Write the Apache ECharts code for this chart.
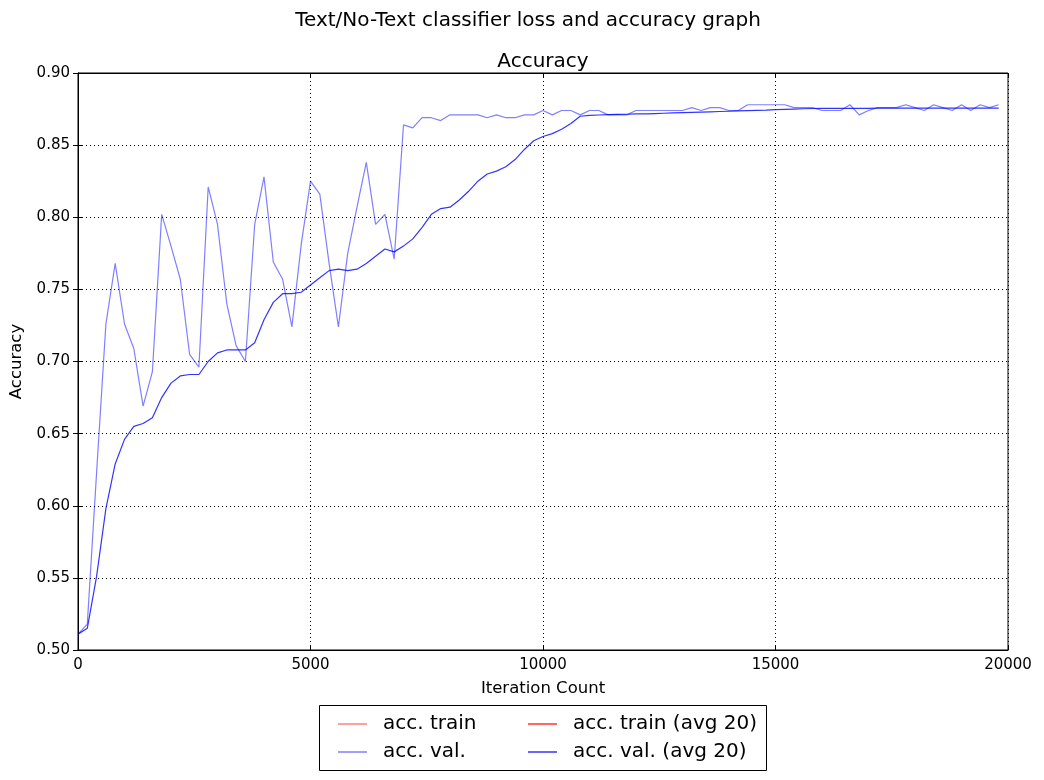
<!DOCTYPE html>
<html>
<head>
<meta charset="utf-8">
<title>Accuracy</title>
<script src="https://cdn.jsdelivr.net/npm/echarts@6/dist/echarts.min.js"></script>
<style>
	html, body { margin: 0; padding: 0; background: #fff; }
	#main { width: 1044px; height: 780px; }
</style>
</head>
<body>
<div id="main"></div>
<script>
// iterations (x)
var iterations = [
	0, 200, 400, 600, 800, 1000, 1200, 1400, 1600, 1800,
	2000, 2200, 2400, 2600, 2800, 3000, 3200, 3400, 3600, 3800,
	4000, 4200, 4400, 4600, 4800, 5000, 5200, 5400, 5600, 5800,
	6000, 6200, 6400, 6600, 6800, 7000, 7200, 7400, 7600, 7800,
	8000, 8200, 8400, 8600, 8800, 9000, 9200, 9400, 9600, 9800,
	10000, 10200, 10400, 10600, 10800, 11000, 11200, 11400, 11600, 11800,
	12000, 12200, 12400, 12600, 12800, 13000, 13200, 13400, 13600, 13800,
	14000, 14200, 14400, 14600, 14800, 15000, 15200, 15400, 15600, 15800,
	16000, 16200, 16400, 16600, 16800, 17000, 17200, 17400, 17600, 17800,
	18000, 18200, 18400, 18600, 18800, 19000, 19200, 19400, 19600, 19800
];

// acc. val.
var accVal = [
	0.511, 0.518, 0.623, 0.726, 0.768, 0.726, 0.709, 0.669, 0.693, 0.802,
	0.780, 0.757, 0.705, 0.696, 0.821, 0.795, 0.740, 0.711, 0.700, 0.795,
	0.828, 0.769, 0.757, 0.724, 0.781, 0.825, 0.816, 0.768, 0.724, 0.775,
	0.807, 0.838, 0.795, 0.802, 0.771, 0.864, 0.862, 0.869, 0.869, 0.867,
	0.871, 0.871, 0.871, 0.871, 0.869, 0.871, 0.869, 0.869, 0.871, 0.871,
	0.874, 0.871, 0.874, 0.874, 0.871, 0.874, 0.874, 0.871, 0.871, 0.871,
	0.874, 0.874, 0.874, 0.874, 0.874, 0.874, 0.876, 0.874, 0.876, 0.876,
	0.874, 0.874, 0.878, 0.878, 0.878, 0.878, 0.878, 0.876, 0.876, 0.876,
	0.874, 0.874, 0.874, 0.878, 0.871, 0.874, 0.876, 0.876, 0.876, 0.878,
	0.876, 0.874, 0.878, 0.876, 0.874, 0.878, 0.874, 0.878, 0.876, 0.878
];

// acc. val. (avg 20)
var accValAvg = [
	0.511, 0.515, 0.551, 0.598, 0.629, 0.646, 0.655, 0.657, 0.661, 0.675,
	0.685, 0.690, 0.691, 0.691, 0.700, 0.706, 0.708, 0.708, 0.708, 0.713,
	0.729, 0.741, 0.747, 0.747, 0.748, 0.753, 0.758, 0.763, 0.764, 0.763,
	0.764, 0.768, 0.773, 0.778, 0.776, 0.780, 0.785, 0.793, 0.802, 0.806,
	0.807, 0.812, 0.818, 0.825, 0.830, 0.832, 0.835, 0.840, 0.847, 0.853,
	0.856, 0.858, 0.861, 0.865, 0.870, 0.8706, 0.8709, 0.8711, 0.8713, 0.8714,
	0.8716, 0.8717, 0.8719, 0.8721, 0.8723, 0.8725, 0.8727, 0.8729, 0.8731, 0.8733,
	0.8735, 0.8737, 0.8739, 0.8741, 0.8743, 0.8746, 0.8748, 0.8750, 0.8752, 0.8754,
	0.8755, 0.8755, 0.8755, 0.8755, 0.8755, 0.8755, 0.8756, 0.8756, 0.8756, 0.8756,
	0.8756, 0.8756, 0.8756, 0.8757, 0.8757, 0.8757, 0.8757, 0.8757, 0.8757, 0.8757
];

// acc. train (nothing drawn in the picture)
var accTrain = [];
var accTrainAvg = [];

var xTicks = [0, 5000, 10000, 15000, 20000];
var yTicks = [0.50, 0.55, 0.60, 0.65, 0.70, 0.75, 0.80, 0.85, 0.90];

function pairs(xs, ys) {
	return ys.map(function(y, i) { return [xs[i], y]; });
}

var font = 'DejaVu Sans';

var gridLine = {
	show: true,
	lineStyle: { color: '#000', width: 1, type: [1, 3] }
};

var legendText = { fontFamily: font, fontSize: 20, color: '#000', lineHeight: 20, padding: [0, 0, 0, 11] };

option = {
	animation: false,
	backgroundColor: '#fff',
	textStyle: { fontFamily: font, color: '#000' },
	title: [{
		text: 'Text/No-Text classifier loss and accuracy graph',
		left: 523,
		textAlign: 'center',
		top: 6,
		textStyle: { fontFamily: font, fontSize: 20, fontWeight: 'normal', color: '#000' }
	}, {
		text: 'Accuracy',
		left: 538,
		textAlign: 'center',
		top: 47,
		textStyle: { fontFamily: font, fontSize: 20, fontWeight: 'normal', color: '#000' }
	}],
	legend: [{
		orient: 'vertical',
		left: 333,
		top: 709,
		itemWidth: 29,
		itemHeight: 1.5,
		itemGap: 8,
		icon: 'rect',
		textStyle: legendText,
		data: ['acc. train', 'acc. val.']
	}, {
		orient: 'vertical',
		left: 523,
		top: 709,
		itemWidth: 29,
		itemHeight: 1.5,
		itemGap: 8,
		icon: 'rect',
		textStyle: legendText,
		data: ['acc. train (avg 20)', 'acc. val. (avg 20)']
	}],
	graphic: [{
		type: 'rect',
		shape: { x: 319.5, y: 705.5, width: 447, height: 65 },
		style: { fill: 'none', stroke: '#000', lineWidth: 1 },
		silent: true
	}],
	grid: {
		left: 78,
		right: 36,
		top: 73,
		bottom: 130,
		show: true,
		borderColor: '#000',
		borderWidth: 1
	},
	xAxis: [{
		type: 'value',
		min: xTicks[0],
		max: xTicks[xTicks.length - 1],
		interval: 5000,
		name: 'Iteration Count',
		nameLocation: 'middle',
		nameGap: 30,
		nameTextStyle: { fontFamily: font, fontSize: 16.5, color: '#000' },
		axisLine: { show: true, lineStyle: { color: '#000' } },
		axisTick: { show: true, inside: true, length: 5, lineStyle: { color: '#000' } },
		axisLabel: {
			fontFamily: font, fontSize: 15, color: '#000', margin: 8,
			formatter: function(v) { return String(v); }
		},
		splitLine: gridLine
	}, {
		type: 'value',
		position: 'top',
		min: xTicks[0],
		max: xTicks[xTicks.length - 1],
		interval: 5000,
		axisLine: { show: true, lineStyle: { color: '#000' } },
		axisTick: { show: true, inside: true, length: 5, lineStyle: { color: '#000' } },
		axisLabel: { show: false },
		splitLine: { show: false }
	}],
	yAxis: [{
		type: 'value',
		min: yTicks[0],
		max: yTicks[yTicks.length - 1],
		interval: 0.05,
		name: 'Accuracy',
		nameLocation: 'middle',
		nameGap: 52,
		nameTextStyle: { fontFamily: font, fontSize: 16.5, color: '#000' },
		axisLine: { show: true, lineStyle: { color: '#000' } },
		axisTick: { show: true, inside: true, length: 5, lineStyle: { color: '#000' } },
		axisLabel: {
			fontFamily: font, fontSize: 15, color: '#000', margin: 8,
			formatter: function(v) { return v.toFixed(2); }
		},
		splitLine: gridLine
	}, {
		type: 'value',
		position: 'right',
		min: yTicks[0],
		max: yTicks[yTicks.length - 1],
		interval: 0.05,
		axisLine: { show: true, lineStyle: { color: '#000' } },
		axisTick: { show: true, inside: true, length: 5, lineStyle: { color: '#000' } },
		axisLabel: { show: false },
		splitLine: { show: false }
	}],
	series: [{
		name: 'acc. train',
		type: 'line',
		color: 'rgba(255,0,0,0.5)',
		showSymbol: false,
		lineStyle: { width: 1.2 },
		data: pairs(iterations, accTrain)
	}, {
		name: 'acc. val.',
		type: 'line',
		color: 'rgba(0,0,255,0.5)',
		showSymbol: false,
		lineStyle: { width: 1.2 },
		data: pairs(iterations, accVal)
	}, {
		name: 'acc. train (avg 20)',
		type: 'line',
		color: 'rgba(255,0,0,0.8)',
		showSymbol: false,
		lineStyle: { width: 1.2 },
		data: pairs(iterations, accTrainAvg)
	}, {
		name: 'acc. val. (avg 20)',
		type: 'line',
		color: 'rgba(0,0,255,0.8)',
		showSymbol: false,
		lineStyle: { width: 1.2 },
		data: pairs(iterations, accValAvg)
	}]
};

var chart = echarts.init(document.getElementById('main'));
chart.setOption(option);
</script>
</body>
</html>
